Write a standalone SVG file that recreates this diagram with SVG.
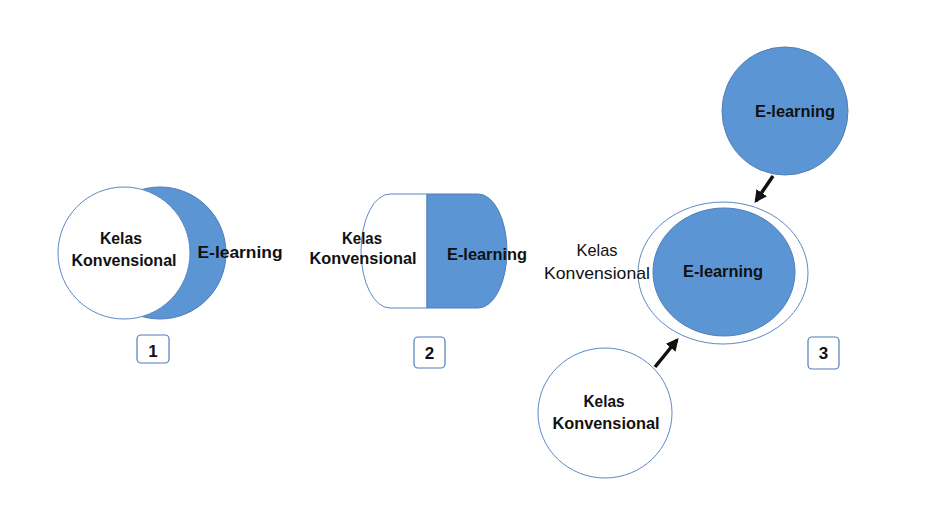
<svg xmlns="http://www.w3.org/2000/svg" width="935" height="507" viewBox="0 0 935 507">
<defs>
<style>
.blue{fill:#5b95d3;stroke:#4f7fba;stroke-width:1}
.white{fill:#ffffff;stroke:#5b8ac6;stroke-width:1}
.box{fill:#ffffff;stroke:#4f7fba;stroke-width:1.2}
.t{font-family:"Liberation Sans",Arial,sans-serif;font-size:17px;font-weight:bold;fill:#111111;text-anchor:middle}
.tn{font-family:"Liberation Sans",Arial,sans-serif;font-size:17px;font-weight:normal;fill:#111111;text-anchor:middle}
.arrow{stroke:#111111;stroke-width:3.5;fill:none;marker-end:url(#ah)}
</style>
<marker id="ah" viewBox="0 0 10 10" refX="8" refY="5" markerWidth="3.6" markerHeight="3.6" orient="auto" markerUnits="strokeWidth">
<path d="M0,0 L10,5 L0,10 Z" fill="#111111"/>
</marker>
</defs>
<rect width="935" height="507" fill="#ffffff"/>

<g id="diagram1">
<circle class="blue" cx="160" cy="253" r="66"/>
<circle class="white" cx="124" cy="253" r="66"/>
<text class="t" x="121" y="244" textLength="42" lengthAdjust="spacingAndGlyphs">Kelas</text>
<text class="t" x="124" y="266" textLength="105" lengthAdjust="spacingAndGlyphs">Konvensional</text>
<text class="t" x="240" y="258" textLength="85" lengthAdjust="spacingAndGlyphs">E-learning</text>
</g>
<g id="label1">
<rect class="box" x="137" y="335" width="32" height="28" rx="4"/>
<text class="t" x="153" y="357">1</text>
</g>

<g id="diagram2">
<path class="white" d="M427,194 H390 A29,57 0 0 0 390,308 H427 Z"/>
<path class="blue" d="M427,194 H478 A29,57 0 0 1 478,308 H427 Z"/>
<text class="t" x="362" y="244" textLength="40" lengthAdjust="spacingAndGlyphs">Kelas</text>
<text class="t" x="363" y="264" textLength="107" lengthAdjust="spacingAndGlyphs">Konvensional</text>
<text class="t" x="487" y="260" textLength="80" lengthAdjust="spacingAndGlyphs">E-learning</text>
</g>
<g id="label2">
<rect class="box" x="414" y="337" width="31" height="31" rx="4"/>
<text class="t" x="429.5" y="359">2</text>
</g>

<g id="elearning-top">
<ellipse class="blue" cx="785" cy="111" rx="63" ry="64"/>
<text class="t" x="795" y="117" textLength="80" lengthAdjust="spacingAndGlyphs">E-learning</text>
</g>

<g id="combined">
<ellipse class="white" cx="723" cy="273" rx="85" ry="71"/>
<ellipse class="blue" cx="724" cy="272" rx="71" ry="64"/>
<text class="t" x="723" y="277" textLength="80" lengthAdjust="spacingAndGlyphs">E-learning</text>
<text class="tn" x="597" y="256" textLength="41" lengthAdjust="spacingAndGlyphs">Kelas</text>
<text class="tn" x="597" y="279" textLength="106" lengthAdjust="spacingAndGlyphs">Konvensional</text>
</g>

<g id="kelas-bottom">
<ellipse class="white" cx="605" cy="413" rx="67" ry="65"/>
<text class="t" x="604" y="407" textLength="41" lengthAdjust="spacingAndGlyphs">Kelas</text>
<text class="t" x="606" y="429" textLength="107" lengthAdjust="spacingAndGlyphs">Konvensional</text>
</g>
<g id="label3">
<rect class="box" x="808" y="337" width="31" height="32" rx="4"/>
<text class="t" x="823.5" y="359">3</text>
</g>

<g id="connectors">
<line class="arrow" x1="773" y1="176" x2="756" y2="201"/>
<line class="arrow" x1="655" y1="367" x2="677" y2="340"/>
</g>
</svg>
